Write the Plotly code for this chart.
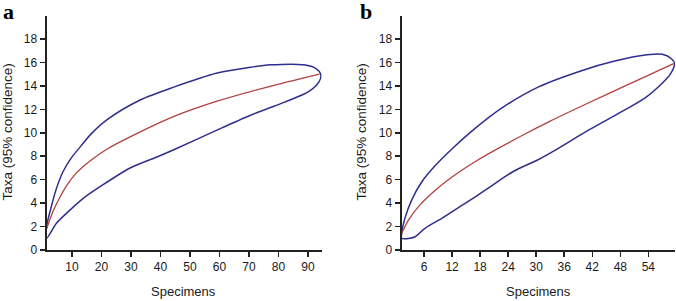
import plotly.graph_objects as go

W, H = 676, 301

# ---------- Panel a data ----------
a_mean_x = [1.4, 3.6, 5.9, 8.2, 11.6, 16.1, 21.8, 30.9, 45.6, 59.2, 76.2, 93.9]
a_mean_y = [1.8, 3.3, 4.5, 5.5, 6.6, 7.6, 8.6, 9.8, 11.5, 12.7, 13.9, 15.0]
a_up_x = [1.4, 3.1, 4.8, 7.0, 9.9, 13.8, 16.1, 21.8, 33.1, 44.5, 59.2, 70.5, 77.3, 88.6, 92.6, 94.3]
a_up_y = [2.0, 3.8, 5.3, 6.7, 7.9, 9.1, 9.8, 11.1, 12.8, 13.9, 15.1, 15.6, 15.8, 15.8, 15.5, 15.0]
a_lo_x = [1.4, 4.8, 9.3, 13.8, 19.5, 29.7, 39.4, 44.5, 58.0, 70.5, 81.9, 85.3, 89.8, 93.0, 94.2, 94.3]
a_lo_y = [1.0, 2.3, 3.4, 4.4, 5.4, 7.0, 8.0, 8.55, 10.1, 11.5, 12.6, 12.95, 13.45, 14.1, 14.6, 15.0]
a_xticks = [10, 20, 30, 40, 50, 60, 70, 80, 90]

# ---------- Panel b data ----------
b_mean_x = [1.2, 2.6, 4.8, 8.4, 12.6, 17.6, 21.1, 27.6, 33.0, 40.9, 50.1, 59.4]
b_mean_y = [1.4, 2.5, 3.7, 5.1, 6.4, 7.7, 8.5, 9.9, 11.0, 12.5, 14.2, 15.9]
b_up_x = [1.2, 1.9, 3.4, 5.5, 8.4, 11.9, 16.1, 22.6, 30.4, 39.7, 46.6, 53.7, 57.0, 59.0, 59.6]
b_up_y = [1.4, 2.7, 4.3, 5.8, 7.2, 8.6, 10.1, 12.1, 13.9, 15.3, 16.1, 16.65, 16.7, 16.3, 15.9]
b_lo_x = [1.2, 3.0, 4.1, 6.2, 9.8, 14.1, 19.1, 25.1, 30.4, 34.0, 41.1, 48.3, 53.4, 56.9, 58.7, 59.6]
b_lo_y = [1.0, 1.0, 1.13, 1.85, 2.7, 3.8, 5.1, 6.7, 7.7, 8.5, 10.2, 11.8, 13.0, 14.2, 15.0, 15.9]
b_xticks = [6, 12, 18, 24, 30, 36, 42, 48, 54]

y_ticks = [0, 2, 4, 6, 8, 10, 12, 14, 16, 18]

BLUE = "#2E2E8E"
RED = "#B3403F"
AX = "#222222"
FONT = "Liberation Sans, Arial, sans-serif"

fig = go.Figure()

def add_panel(xa, ya, mx, my, ux, uy, lx, ly):
    # closed confidence envelope: upper forward, lower backward
    ex = list(ux) + list(reversed(lx[:-1])) + [ux[0]]
    ey = list(uy) + list(reversed(ly[:-1])) + [uy[0]]
    fig.add_trace(go.Scatter(x=ex, y=ey, mode="lines", xaxis=xa, yaxis=ya,
                             line=dict(color=BLUE, width=1.5, shape="spline", smoothing=0.8),
                             showlegend=False, hoverinfo="skip"))
    fig.add_trace(go.Scatter(x=mx, y=my, mode="lines", xaxis=xa, yaxis=ya,
                             line=dict(color=RED, width=1.3, shape="spline", smoothing=0.8),
                             showlegend=False, hoverinfo="skip"))

add_panel("x", "y", a_mean_x, a_mean_y, a_up_x, a_up_y, a_lo_x, a_lo_y)
add_panel("x2", "y2", b_mean_x, b_mean_y, b_up_x, b_up_y, b_lo_x, b_lo_y)

ydom = [1 - 250 / H, 1 - 15.6 / H]

def xaxis(dom, rng, ticks):
    return dict(domain=dom, range=rng, tickvals=ticks, ticktext=[str(t) for t in ticks],
                showline=True, linecolor=AX, linewidth=2, ticks="outside", ticklen=5,
                tickwidth=1.5, tickcolor=AX, showgrid=False, zeroline=False, automargin=False,
                tickfont=dict(family=FONT, size=12, color="#1a1a1a"), fixedrange=True)

def yaxis(anchor):
    return dict(domain=ydom, range=[0, 20], tickvals=y_ticks, ticktext=[str(t) for t in y_ticks],
                showline=True, linecolor=AX, linewidth=2, ticks="outside", ticklen=5,
                tickwidth=1.5, tickcolor=AX, showgrid=False, zeroline=False, anchor=anchor,
                automargin=False,
                tickfont=dict(family=FONT, size=12, color="#1a1a1a"), fixedrange=True)

fig.update_layout(
    width=W, height=H,
    margin=dict(l=0, r=0, t=0, b=0, pad=0),
    paper_bgcolor="white", plot_bgcolor="white",
    xaxis=dict(xaxis([46.6 / W, 321.6 / W], [1.4, 94.6], a_xticks), anchor="y"),
    yaxis=yaxis("x"),
    xaxis2=dict(xaxis([401.6 / W, 675.0 / W], [1.2, 59.7], b_xticks), anchor="y2"),
    yaxis2=yaxis("x2"),
)

annots = [
    dict(text="Specimens", x=183 / W, y=1 - 291.5 / H, size=13, angle=0),
    dict(text="Specimens", x=538 / W, y=1 - 291.5 / H, size=13, angle=0),
    dict(text="Taxa (95% confidence)", x=7 / W, y=1 - 132.5 / H, size=13.5, angle=-90),
    dict(text="Taxa (95% confidence)", x=361 / W, y=1 - 132.5 / H, size=13.5, angle=-90),
]
for a in annots:
    fig.add_annotation(text=a["text"], x=a["x"], y=a["y"], xref="paper", yref="paper",
                       showarrow=False, textangle=a["angle"], xanchor="center", yanchor="middle",
                       font=dict(family=FONT, size=a["size"], color="#1a1a1a"))

for lab, px, py in [("a", 8, 11.5), ("b", 366, 11.5)]:
    fig.add_annotation(text="<b>" + lab + "</b>", x=px / W, y=1 - py / H, xref="paper", yref="paper",
                       showarrow=False, xanchor="center", yanchor="middle",
                       font=dict(family="Liberation Serif, Times New Roman, serif", size=22, color="black"))

fig.write_html("out.html", config={"displayModeBar": False, "staticPlot": True},
               post_script="document.body.style.margin='0';document.body.style.overflow='hidden';")
